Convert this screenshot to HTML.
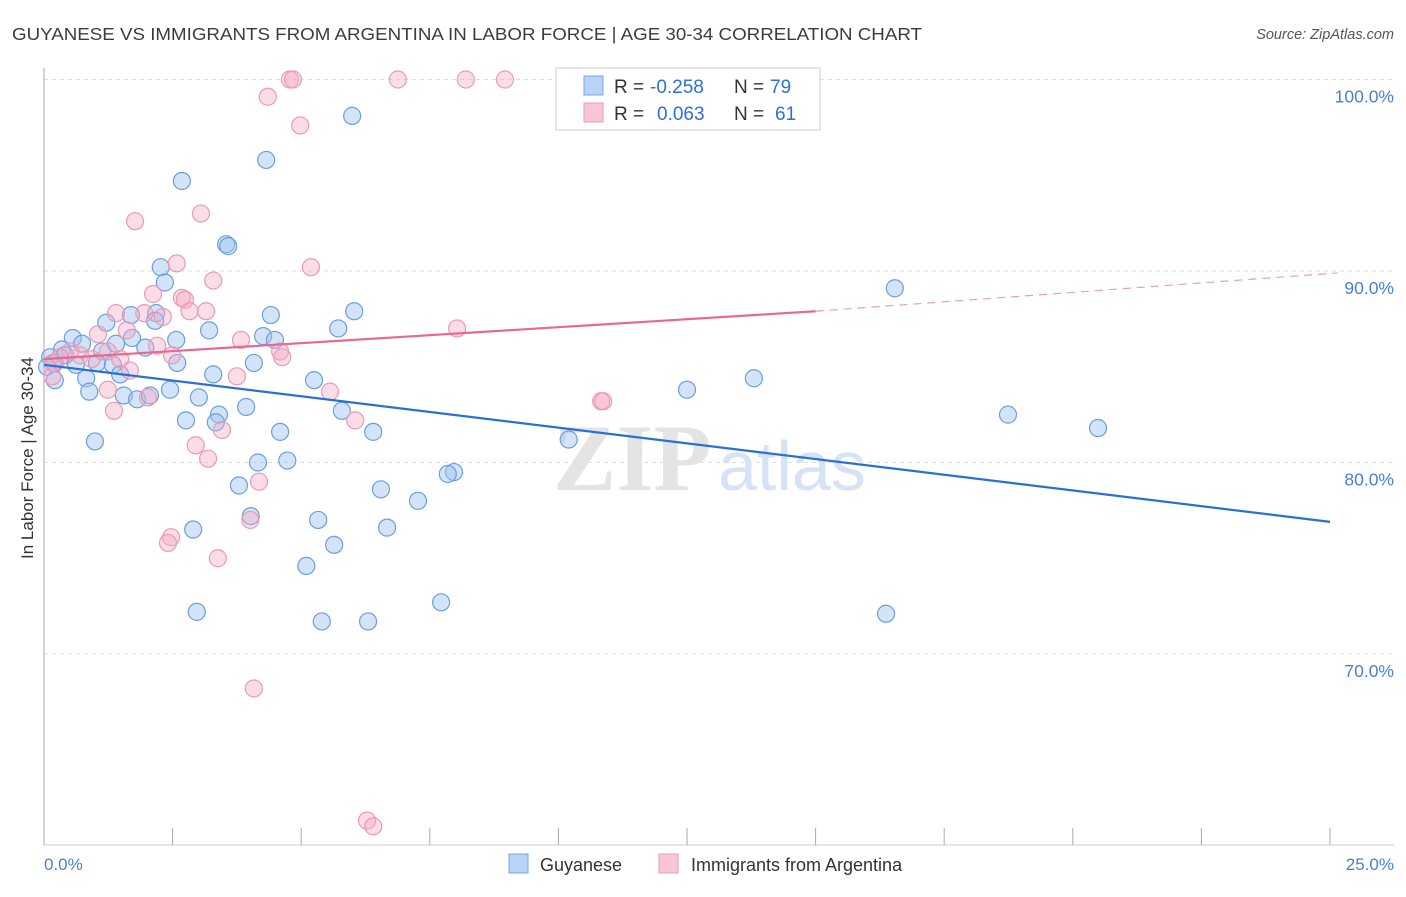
<!DOCTYPE html>
<html><head><meta charset="utf-8"><style>
body{margin:0;background:#fff;font-family:"Liberation Sans",sans-serif}
svg text{font-family:"Liberation Sans",sans-serif}
</style></head><body>
<svg width="1406" height="892">
<text x="12" y="40" font-size="17.5" fill="#3c3c3c" textLength="910" lengthAdjust="spacingAndGlyphs">GUYANESE VS IMMIGRANTS FROM ARGENTINA IN LABOR FORCE | AGE 30-34 CORRELATION CHART</text>
<text x="1394" y="39" font-size="14.5" fill="#555" text-anchor="end" font-style="italic">Source: ZipAtlas.com</text>
<g id="grid"></g>
<text x="553" y="490" font-size="95" fill="#e4e4e4" font-weight="bold" style="font-family:'Liberation Serif',serif">ZIP</text>
<text x="718" y="490" font-size="70" fill="#d6e3f4">atlas</text>
<g id="pts"></g>
<g id="lines"></g>
<text x="33" y="458" font-size="17" fill="#333" text-anchor="middle" transform="rotate(-90 33 458)">In Labor Force | Age 30-34</text>
<text x="44" y="870" font-size="17" fill="#4a7fd6">0.0%</text>
<text x="1394" y="870" font-size="17" fill="#4a7fd6" text-anchor="end">25.0%</text>
<g>
<rect x="556" y="68" width="264" height="62" fill="#fff" stroke="#ccc"/>
<rect x="584" y="76" width="19" height="19" fill="#b8d3f5" stroke="#7aa6e6"/>
<rect x="584" y="103" width="19" height="19" fill="#f8c6d6" stroke="#eb9ab5"/>
<text x="614" y="93" font-size="19" fill="#333">R =</text>
<text x="650" y="93" font-size="19" fill="#2e6fd8">-0.258</text>
<text x="734" y="93" font-size="19" fill="#333">N =</text>
<text x="770" y="93" font-size="19" fill="#2e6fd8">79</text>
<text x="614" y="120" font-size="19" fill="#333">R =</text>
<text x="657" y="120" font-size="19" fill="#2e6fd8">0.063</text>
<text x="734" y="120" font-size="19" fill="#333">N =</text>
<text x="775" y="120" font-size="19" fill="#2e6fd8">61</text>
</g>
<g>
<rect x="509" y="854" width="19" height="19" fill="#b8d3f5" stroke="#7aa6e6"/>
<text x="540" y="871" font-size="18" fill="#333">Guyanese</text>
<rect x="659" y="854" width="19" height="19" fill="#f8c6d6" stroke="#eb9ab5"/>
<text x="691" y="871" font-size="18" fill="#333">Immigrants from Argentina</text>
</g>
</svg>
<script>
const yTicks=[100,90,80,70];
const xTicks=[0,2.5,5,7.5,10,12.5,15,17.5,20,22.5,25];
const blueX=[5.99,4.32,2.68,3.54,3.58,2.27,2.35,16.54,4.41,2.18,6.03,2.16,1.69,1.21,3.21,5.72,0.56,2.57,4.26,4.49,1.71,0.74,1.40,1.13,1.97,0.35,0.12,0.21,0.41,1.03,1.34,2.59,4.08,0.62,0.06,0.21,0.82,1.48,3.29,5.25,12.5,13.8,0.88,1.55,1.81,2.06,2.45,3.01,3.93,5.79,3.40,2.76,3.34,18.74,20.49,6.40,4.59,10.2,0.99,4.16,4.73,7.97,7.85,3.79,6.55,7.27,4.02,5.33,2.90,6.67,5.64,5.10,7.72,2.97,16.37,5.40,6.30];
const blueY=[98.1,95.8,94.7,91.4,91.3,90.2,89.4,89.1,87.7,87.8,87.9,87.4,87.7,87.3,86.9,87.0,86.5,86.4,86.6,86.4,86.5,86.2,86.2,85.8,86.0,85.9,85.5,85.2,85.6,85.2,85.1,85.2,85.2,85.1,85.0,84.3,84.4,84.6,84.6,84.3,83.8,84.4,83.7,83.5,83.3,83.5,83.8,83.4,82.9,82.7,82.5,82.2,82.1,82.5,81.8,81.6,81.6,81.2,81.1,80.0,80.1,79.5,79.4,78.8,78.6,78.0,77.2,77.0,76.5,76.6,75.7,74.6,72.7,72.2,72.1,71.7,71.7];
const pinkX=[4.78,4.84,6.88,8.2,8.96,4.35,4.98,1.77,3.05,2.58,5.19,3.29,2.12,2.68,2.74,3.15,2.83,1.40,1.95,2.31,8.03,1.61,1.05,3.83,2.20,4.59,4.63,1.24,0.70,0.51,2.49,1.48,0.31,0.93,0.17,1.67,0.16,3.75,1.24,2.02,5.56,10.83,10.87,1.36,6.05,3.46,2.95,3.19,4.18,4.01,2.47,2.41,3.38,4.08,6.28,6.40];
const pinkY=[100,100,100,100,100,99.1,97.6,92.6,93.0,90.4,90.2,89.5,88.8,88.6,88.5,87.9,87.9,87.8,87.8,87.6,87.0,86.9,86.7,86.4,86.1,85.8,85.5,85.8,85.6,85.8,85.6,85.4,85.5,85.4,85.2,84.8,84.5,84.5,83.8,83.4,83.7,83.2,83.2,82.7,82.2,81.7,80.9,80.2,79.0,77.0,76.1,75.8,75.0,68.2,61.3,61.0];
const blueLine=[85.1,76.9];
const pinkLine=[85.4,87.9,89.9];
const pinkSolidEnd=15;
const NS="http://www.w3.org/2000/svg";
const X=v=>44+v/25*1286, Y=v=>79.5+(100-v)*19.15;
function mk(t,a,p){const e=document.createElementNS(NS,t);for(const k in a)e.setAttribute(k,a[k]);p.appendChild(e);return e;}
const g=document.getElementById('grid');
yTicks.forEach(t=>{
 const l=mk('line',{x1:44,x2:1394,y1:Y(t),y2:Y(t),stroke:'#ddd','stroke-dasharray':'4 4'},g);
 
 
 const tx=mk('text',{x:1394,y:Y(t)+23,'font-size':17.5,fill:'#4a7fd6','text-anchor':'end'},g);
 tx.textContent=t.toFixed(1)+'%';
 
 
});
const ax=mk('line',{x1:44,x2:44,y1:68,y2:845,stroke:'#aaa'},g);


const bx=mk('line',{x1:44,x2:1394,y1:845,y2:845,stroke:'#ccc'},g);


xTicks.forEach(t=>{
 const l=mk('line',{x1:X(t),x2:X(t),y1:828,y2:845,stroke:'#aaa'},g);
 
 
});
const p=document.getElementById('pts');
blueX.forEach((v,i)=>{
 const c=mk('circle',{cx:X(v),cy:Y(blueY[i]),r:8.5,fill:'rgba(160,196,240,0.45)',stroke:'#6a9fe0','stroke-width':1.2},p);
 
 
});
pinkX.forEach((v,i)=>{
 const c=mk('circle',{cx:X(v),cy:Y(pinkY[i]),r:8.5,fill:'rgba(245,170,195,0.4)',stroke:'#eb9ab5','stroke-width':1.2},p);
 
 
});
const L=document.getElementById('lines');
const b=mk('line',{x1:X(0),y1:Y(blueLine[0]),x2:X(25),y2:Y(blueLine[1]),stroke:'#2a6fd8','stroke-width':2.2},L);


const ps=mk('line',{x1:X(0),y1:Y(pinkLine[0]),x2:X(pinkSolidEnd),y2:Y(pinkLine[1]),stroke:'#e8688f','stroke-width':2.2},L);


const pd=mk('line',{x1:X(pinkSolidEnd),y1:Y(pinkLine[1]),x2:X(25.15),y2:Y(pinkLine[2]),stroke:'#e8a0b5','stroke-width':1.2,'stroke-dasharray':'8 6'},L);


</script>
</body></html>
